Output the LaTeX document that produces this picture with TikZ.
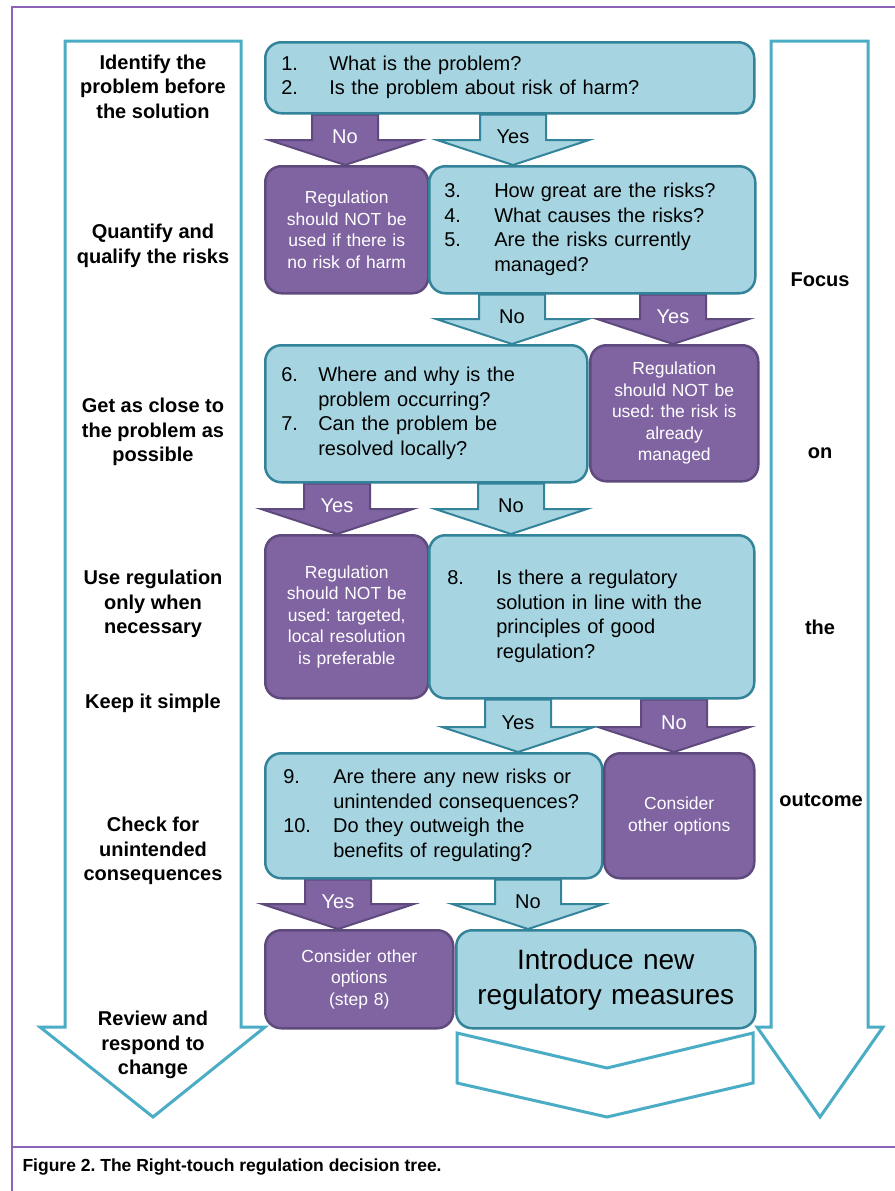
\documentclass[tikz,border=0pt]{standalone}
\usepackage{fontspec}
\setmainfont{Liberation Sans}
\usetikzlibrary{calc}
\frenchspacing

\definecolor{boxblue}{HTML}{A6D5E1}
\definecolor{blueline}{HTML}{33839A}
\definecolor{boxpurple}{HTML}{8064A2}
\definecolor{purpleline}{HTML}{5E4A7D}
\definecolor{bigline}{HTML}{4BACC6}
\definecolor{framecol}{HTML}{8E63B8}

\pgfdeclarelayer{bg}
\pgfsetlayers{bg,main}

\begin{document}
\begin{tikzpicture}[x=1pt,y=-1pt,
 blue box/.style={draw=blueline,fill=boxblue,line width=2.5pt,rounded corners=16pt,
   anchor=north west,inner sep=0pt,align=left,font=\fontsize{20}{24.5}\selectfont},
 purple box/.style={draw=purpleline,fill=boxpurple,line width=2.5pt,rounded corners=16pt,
   anchor=north west,inner sep=0pt,align=center,text=white,font=\fontsize{17.5}{21.5}\selectfont},
 side label/.style={align=center,font=\bfseries\fontsize{20}{24.5}\selectfont},
 big arrow/.style={draw=bigline,fill=white,line width=3pt},
 purple arrow/.style={draw=purpleline,fill=boxpurple,line width=2pt},
 blue arrow/.style={draw=blueline,fill=boxblue,line width=2pt},
 arrow label/.style={font=\fontsize{20}{24}\selectfont}]

  \useasboundingbox (0,0) rectangle (894,1191);
  \draw[framecol,line width=1.5pt] (900,7) -- (12,7) -- (12,1200) (12,1147) -- (900,1147);
  \node[anchor=west,font=\bfseries\fontsize{17.5}{20}\selectfont] (caption) at (19,1167)
    {Figure 2. The Right-touch regulation decision tree.};

  % side arrows and the closing chevron
  \draw[big arrow] (65,41) -- (241,41) -- (241,1027) -- (265,1027) -- (153,1117)
    -- (40,1027) -- (65,1027) -- cycle;
  \draw[big arrow] (771,41) -- (868,41) -- (868,1027) -- (883,1027) -- (820,1117)
    -- (757,1027) -- (771,1027) -- cycle;
  \draw[big arrow,line join=miter] (457,1033) -- (607,1068) -- (753,1033) -- (753,1083)
    -- (607,1117) -- (457,1083) -- cycle;

  \node[side label] (id) at (153,86.5) {Identify the\\problem before\\the solution};
  \node[side label] (quant) at (153,246) {Quantify and\\qualify the risks};
  \node[side label] (close) at (153,432) {Get as close to\\the problem as\\possible};
  \node[side label] (use) at (153,604) {Use regulation\\only when\\necessary};
  \node[side label] (simple) at (153,703) {Keep it simple};
  \node[side label] (check) at (153,851) {Check for\\unintended\\consequences};
  \node[side label] (review) at (153,1045) {Review and\\respond to\\change};

  \node[side label] (focus) at (820,280) {Focus};
  \node[side label] (on) at (820,453) {on};
  \node[side label] (the) at (820,627) {the};
  \node[side label] (outcome) at (821,800) {outcome};

  % decision boxes
  \node[blue box,minimum width=489pt,minimum height=71pt,text width=457pt] (q12) at (264,41)
    {\begin{tabular}{@{}p{48pt}@{}l@{}}1.&What is the problem?\\2.&Is the problem about risk of harm?\end{tabular}};
  \node[purple box,minimum width=163pt,minimum height=127pt,text width=153pt] (stop1) at (264,165)
    {Regulation\\should NOT be\\used if there is\\no risk of harm};
  \node[blue box,minimum width=326pt,minimum height=127pt,text width=296pt] (q35) at (428,165)
    {\begin{tabular}{@{}p{50pt}@{}l@{}}3.&How great are the risks?\\4.&What causes the risks?\\
      5.&Are the risks currently\\&managed?\end{tabular}};
  \node[blue box,minimum width=322pt,minimum height=137pt,text width=290pt] (q67) at (264,344)
    {\begin{tabular}{@{}p{37pt}@{}l@{}}6.&Where and why is the\\&problem occurring?\\
      7.&Can the problem be\\&resolved locally?\end{tabular}};
  \node[purple box,minimum width=168pt,minimum height=136pt,text width=158pt] (stop2) at (589,344)
    {Regulation\\should NOT be\\used: the risk is\\already\\managed};
  \node[purple box,minimum width=163pt,minimum height=163pt,text width=153pt] (stop3) at (264,534)
    {Regulation\\should NOT be\\used: targeted,\\local resolution\\is preferable};
  \node[blue box,minimum width=325pt,minimum height=163pt,text width=289pt] (q8) at (428,534)
    {\begin{tabular}{@{}p{49pt}@{}l@{}}8.&Is there a regulatory\\&solution in line with the\\
      &principles of good\\&regulation?\end{tabular}};
  \node[blue box,minimum width=337pt,minimum height=125pt,text width=301pt] (q910) at (264,752)
    {\begin{tabular}{@{}p{50pt}@{}l@{}}9.&Are there any new risks or\\&unintended consequences?\\
      10.&Do they outweigh the\\&benefits of regulating?\end{tabular}};
  \node[purple box,minimum width=150pt,minimum height=125pt,text width=140pt] (other1) at (603,752)
    {Consider\\other options};
  \node[purple box,minimum width=188pt,minimum height=98pt,text width=178pt] (other2) at (264,929)
    {Consider other\\options\\(step 8)};
  \node[blue box,minimum width=299pt,minimum height=98pt,text width=280pt,align=center,
    font=\fontsize{28}{35}\selectfont] (intro) at (455,929) {Introduce new\\regulatory measures};

  % yes / no arrows between the boxes
  \begin{pgfonlayer}{bg}
  \foreach \c/\s/\t/\l [count=\i] in {345/q12/stop1/No, 673/q35/stop2/Yes, 337/q67/stop3/Yes,
      674/q8/other1/No, 338/q910/other2/Yes}
    \path[purple arrow] let \p1=(\s.south), \p2=(\t.north) in
      ({\c*1pt-33pt},\y1) -- ({\c*1pt+33pt},\y1) -- ({\c*1pt+33pt},{\y2+25pt})
      -- ({\c*1pt+76pt},{\y2+25pt}) -- ({\c*1pt},\y2) -- ({\c*1pt-76pt},{\y2+25pt})
      -- ({\c*1pt-33pt},{\y2+25pt}) -- cycle
      node[arrow label,text=white] (pl\i) at ({\c*1pt},{(\y1+\y2)/2+3pt}) {\l};
  \foreach \c/\s/\t/\l [count=\i] in {513/q12/q35/Yes, 512/q35/q67/No, 511/q67/q8/No,
      518/q8/q910/Yes, 528/q910/intro/No}
    \path[blue arrow] let \p1=(\s.south), \p2=(\t.north) in
      ({\c*1pt-33pt},\y1) -- ({\c*1pt+33pt},\y1) -- ({\c*1pt+33pt},{\y2+25pt})
      -- ({\c*1pt+76pt},{\y2+25pt}) -- ({\c*1pt},\y2) -- ({\c*1pt-76pt},{\y2+25pt})
      -- ({\c*1pt-33pt},{\y2+25pt}) -- cycle
      node[arrow label] (bl\i) at ({\c*1pt},{(\y1+\y2)/2+3pt}) {\l};
  \end{pgfonlayer}

\end{tikzpicture}
\end{document}
